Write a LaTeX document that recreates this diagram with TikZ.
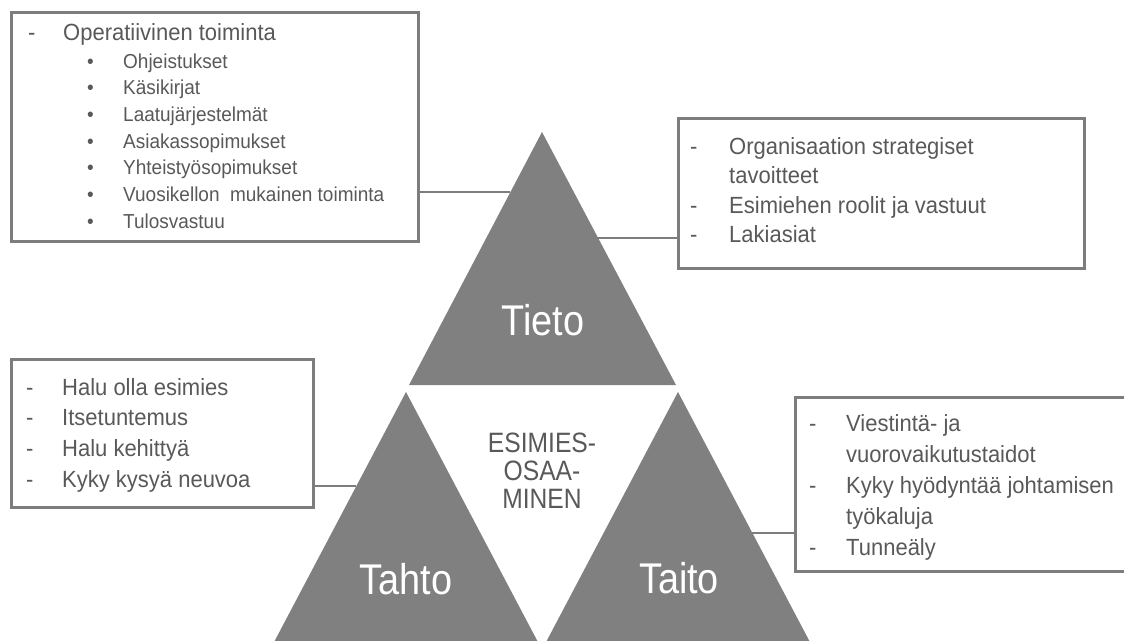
\documentclass[tikz,border=0pt]{standalone}
\usepackage{fontspec}
\setmainfont{Liberation Sans}
\newfontfamily\narrowsans[FakeStretch=0.88]{Liberation Sans}
\newfontfamily\bodysans[FakeStretch=0.94]{Liberation Sans}
\usetikzlibrary{calc}
\definecolor{trigray}{RGB}{128,128,128}
\definecolor{txtgray}{RGB}{89,89,89}
\definecolor{boxgray}{RGB}{125,125,125}
\tikzset{
  tri/.style={fill=trigray, draw=none},
  infobox/.style={draw=boxgray, line width=2.5pt, fill=none, inner sep=0pt, anchor=north west},
  link/.style={draw=boxgray, line width=1.4pt},
  boxline/.style={anchor=base west, inner sep=0pt, text=txtgray, font=\bodysans\fontsize{23.4}{28}\selectfont},
  itemline/.style={anchor=base west, inner sep=0pt, text=txtgray, font=\bodysans\fontsize{20.2}{24}\selectfont},
  biglabel/.style={anchor=base, inner sep=0pt, text=white, font=\narrowsans\fontsize{43}{43}\selectfont},
}
\begin{document}
\begin{tikzpicture}[x=1pt,y=-1pt]
\useasboundingbox (0,0) rectangle (1124,640);
\clip (0,0) rectangle (1124,640);
\fill[white] (0,0) rectangle (1124,640);

% triangles
\coordinate (tTop) at (542,132);
\coordinate (tL) at (409,385);
\coordinate (tR) at (676,385);
\coordinate (hTop) at (406,392);
\coordinate (hL) at (272.5,645);
\coordinate (hR) at (539.5,645);
\coordinate (aTop) at (678,392);
\coordinate (aL) at (544.5,645);
\coordinate (aR) at (811.5,645);
\fill[tri] (tTop) -- (tL) -- (tR) -- cycle;
\fill[tri] (hTop) -- (hL) -- (hR) -- cycle;
\fill[tri] (aTop) -- (aL) -- (aR) -- cycle;

% triangle labels
\node[biglabel] (tieto) at (543,335) {Tieto};
\node[biglabel] (tahto) at (406,594) {Tahto};
\node[biglabel] (taito) at (679,593) {Taito};
\node[anchor=base, inner sep=0pt, text=txtgray, font=\narrowsans\fontsize{28}{28}\selectfont] (center) at (542,452)
  {\begin{tabular}[t]{@{}c@{}}ESIMIES-\\OSAA-\\MINEN\end{tabular}};

% boxes
\node[infobox, minimum width=407pt, minimum height=229pt] (opbox) at (10,11) {};
\node[infobox, minimum width=406pt, minimum height=150pt] (goalbox) at (677,117) {};
\node[infobox, minimum width=302pt, minimum height=148pt] (willbox) at (10,358) {};
\node[infobox, minimum width=340pt, minimum height=174pt] (skillbox) at (794,396) {};

% connector end points on triangle edges
\coordinate (c1) at ($(tTop)!0.237!(tL)$);
\coordinate (c2) at ($(tTop)!0.419!(tR)$);
\coordinate (c3) at ($(hTop)!0.372!(hL)$);
\coordinate (c4) at ($(aTop)!0.557!(aR)$);
\draw[link] (opbox.east |- c1) -- (c1);
\draw[link] (goalbox.west |- c2) -- (c2);
\draw[link] (willbox.east |- c3) -- (c3);
\draw[link] (skillbox.west |- c4) -- (c4);

% operative box text
\node[boxline] (opd) at (28,40) {-};
\node[boxline] (opt) at (63,40) {Operatiivinen toiminta};
\foreach \txt [count=\i from 0] in {Ohjeistukset,Käsikirjat,Laatujärjestelmät,Asiakassopimukset,Yhteistyösopimukset,{Vuosikellon\ \ mukainen toiminta},Tulosvastuu}{
  \node[itemline] (opb\i) at (87,68+26.67*\i) {•};
  \node[itemline] (opi\i) at (123,68+26.67*\i) {\txt};
}

% goal box text
\node[boxline] (gd1) at (690,154) {-};
\node[boxline] (gt1) at (729,154) {Organisaation strategiset};
\node[boxline] (gt1b) at (729,183.5) {tavoitteet};
\node[boxline] (gd2) at (690,213) {-};
\node[boxline] (gt2) at (729,213) {Esimiehen roolit ja vastuut};
\node[boxline] (gd3) at (690,242.5) {-};
\node[boxline] (gt3) at (729,242.5) {Lakiasiat};

% will box text
\foreach \txt [count=\i from 0] in {Halu olla esimies,Itsetuntemus,Halu kehittyä,Kyky kysyä neuvoa}{
  \node[boxline] (wd\i) at (26,395+30.7*\i) {-};
  \node[boxline] (wt\i) at (62,395+30.7*\i) {\txt};
}

% skill box text
\node[boxline] (sd1) at (809,431) {-};
\node[boxline] (st1) at (846,431) {Viestintä- ja};
\node[boxline] (st1b) at (846,462) {vuorovaikutustaidot};
\node[boxline] (sd2) at (809,493) {-};
\node[boxline] (st2) at (846,493) {Kyky hyödyntää johtamisen};
\node[boxline] (st2b) at (846,524) {työkaluja};
\node[boxline] (sd3) at (809,555) {-};
\node[boxline] (st3) at (846,555) {Tunneäly};
\end{tikzpicture}
\end{document}
